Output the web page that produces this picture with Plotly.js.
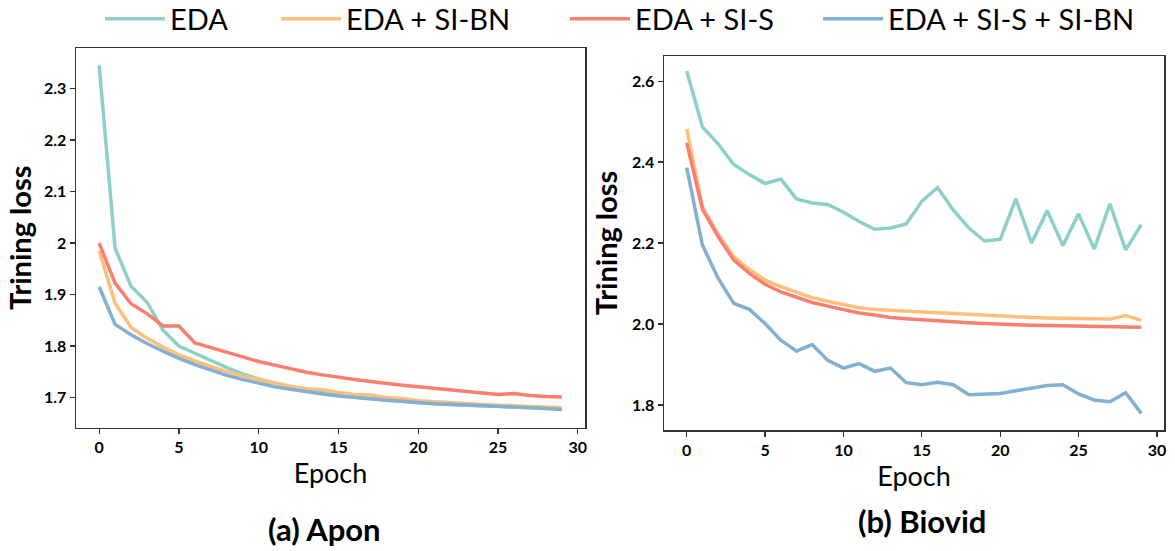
<!DOCTYPE html>
<html>
<head>
<meta charset="utf-8">
<script src="https://cdn.plot.ly/plotly-3.0.1.min.js"></script>
<style>html,body{margin:0;padding:0;background:#fff;}#chart{width:1175px;height:551px;}</style>
</head>
<body>
<div id="chart"></div>
<script>
const epochs = Array.from({length: 30}, (_, i) => i);
const seriesNames = ["EDA", "EDA + SI-BN", "EDA + SI-S", "EDA + SI-S + SI-BN"];
const seriesColors = ["#8ECFC9", "#FFBE7A", "#FA7F6F", "#82B0D2"];

// (a) Apon
const apon_EDA   = [2.345, 1.990, 1.916, 1.885, 1.831, 1.800, 1.786, 1.772, 1.758, 1.746, 1.736, 1.728, 1.721, 1.715, 1.710, 1.705, 1.701, 1.698, 1.695, 1.692, 1.690, 1.688, 1.686, 1.685, 1.684, 1.683, 1.682, 1.681, 1.680, 1.679];
const apon_SIBN  = [1.985, 1.883, 1.836, 1.815, 1.798, 1.783, 1.771, 1.760, 1.750, 1.742, 1.735, 1.728, 1.722, 1.717, 1.715, 1.710, 1.706, 1.705, 1.700, 1.698, 1.694, 1.692, 1.690, 1.688, 1.687, 1.685, 1.684, 1.683, 1.682, 1.680];
const apon_SIS   = [2.000, 1.922, 1.882, 1.863, 1.839, 1.839, 1.806, 1.797, 1.788, 1.779, 1.770, 1.763, 1.756, 1.749, 1.744, 1.739, 1.735, 1.731, 1.727, 1.724, 1.721, 1.718, 1.715, 1.713, 1.709, 1.706, 1.708, 1.704, 1.702, 1.701];
const apon_SISBN = [1.915, 1.842, 1.822, 1.805, 1.790, 1.776, 1.764, 1.753, 1.743, 1.735, 1.728, 1.721, 1.716, 1.711, 1.707, 1.703, 1.700, 1.697, 1.695, 1.693, 1.690, 1.688, 1.687, 1.685, 1.684, 1.683, 1.681, 1.680, 1.679, 1.677];

// (b) Biovid
const biovid_EDA   = [2.625, 2.487, 2.445, 2.394, 2.369, 2.347, 2.358, 2.309, 2.299, 2.295, 2.276, 2.253, 2.234, 2.237, 2.247, 2.303, 2.337, 2.282, 2.237, 2.205, 2.209, 2.309, 2.200, 2.280, 2.194, 2.272, 2.185, 2.297, 2.183, 2.245];
const biovid_SIBN  = [2.482, 2.290, 2.222, 2.166, 2.135, 2.108, 2.092, 2.078, 2.065, 2.056, 2.049, 2.040, 2.036, 2.034, 2.031, 2.028, 2.026, 2.024, 2.022, 2.020, 2.020, 2.018, 2.016, 2.015, 2.014, 2.013, 2.013, 2.012, 2.021, 2.009];
const biovid_SIS   = [2.448, 2.284, 2.216, 2.158, 2.125, 2.098, 2.079, 2.065, 2.053, 2.044, 2.036, 2.027, 2.022, 2.016, 2.013, 2.010, 2.007, 2.005, 2.003, 2.001, 1.999, 1.998, 1.997, 1.996, 1.995, 1.994, 1.994, 1.993, 1.993, 1.992];
const biovid_SISBN = [2.386, 2.195, 2.113, 2.051, 2.036, 2.001, 1.960, 1.933, 1.949, 1.910, 1.891, 1.902, 1.883, 1.891, 1.855, 1.850, 1.856, 1.850, 1.825, 1.827, 1.828, 1.835, 1.842, 1.848, 1.850, 1.827, 1.812, 1.808, 1.830, 1.779];

const xTicks = [0, 5, 10, 15, 20, 25, 30];
const aponYTicks = [1.7, 1.8, 1.9, 2, 2.1, 2.2, 2.3];
const aponYTickText = ["1.7", "1.8", "1.9", "2", "2.1", "2.2", "2.3"];
const biovidYTicks = [1.8, 2.0, 2.2, 2.4, 2.6];
const biovidYTickText = ["1.8", "2.0", "2.2", "2.4", "2.6"];
const yTitle = "Trining loss";
const xTitle = "Epoch";
const panelTitles = ["(a) Apon", "(b) Biovid"];

const aponData = [apon_EDA, apon_SIBN, apon_SIS, apon_SISBN];
const biovidData = [biovid_EDA, biovid_SIBN, biovid_SIS, biovid_SISBN];

const FONT = "Lato, 'Open Sans', sans-serif";
const legendIds = ["legend", "legend2", "legend3", "legend4"];
const legendX = [100, 276, 565, 818];

const traces = [];
aponData.forEach((ys, i) => traces.push({
  x: epochs, y: ys, type: "scatter", mode: "lines", name: seriesNames[i],
  line: {color: seriesColors[i], width: 3.5}, xaxis: "x", yaxis: "y",
  legend: legendIds[i], showlegend: true
}));
biovidData.forEach((ys, i) => traces.push({
  x: epochs, y: ys, type: "scatter", mode: "lines", name: seriesNames[i],
  line: {color: seriesColors[i], width: 3.5}, xaxis: "x2", yaxis: "y2", showlegend: false
}));

const axisCommon = {
  showline: true, mirror: true, linecolor: "#333", linewidth: 1.5,
  ticks: "outside", ticklen: 5, tickcolor: "#333", tickwidth: 1.2,
  showgrid: false, zeroline: false,
  tickfont: {family: FONT, size: 16, color: "#000", weight: "bold"}
};

const layout = {
  width: 1175, height: 551,
  margin: {l: 0, r: 0, t: 0, b: 0, autoexpand: false},
  paper_bgcolor: "#fff", plot_bgcolor: "#fff",
  showlegend: true,
  xaxis: Object.assign({}, axisCommon, {
    domain: [76/1175, 585/1175], anchor: "y", range: [-1.45, 30.45],
    tickvals: xTicks,
    title: {text: xTitle, font: {family: FONT, size: 27, color: "#000"}, standoff: 5}
  }),
  yaxis: Object.assign({}, axisCommon, {
    domain: [1 - 427.7/551, 1 - 48/551], anchor: "x", range: [1.6415, 2.3785],
    tickvals: aponYTicks, ticktext: aponYTickText,
    title: {text: yTitle, font: {family: FONT, size: 29, color: "#000", weight: "bold"}, standoff: 4}
  }),
  xaxis2: Object.assign({}, axisCommon, {
    domain: [664/1175, 1164/1175], anchor: "y2", range: [-1.45, 30.45],
    tickvals: xTicks,
    title: {text: xTitle, font: {family: FONT, size: 27, color: "#000"}, standoff: 1}
  }),
  yaxis2: Object.assign({}, axisCommon, {
    domain: [1 - 430/551, 1 - 56/551], anchor: "x2", range: [1.738, 2.662],
    tickvals: biovidYTicks, ticktext: biovidYTickText,
    title: {text: yTitle, font: {family: FONT, size: 29, color: "#000", weight: "bold"}, standoff: 6}
  }),
  annotations: [
    {text: panelTitles[0], xref: "paper", yref: "paper", x: 324/1175, y: 1 - 529/551, xanchor: "center", yanchor: "middle",
     showarrow: false, font: {family: FONT, size: 31, color: "#000", weight: "bold"}},
    {text: panelTitles[1], xref: "paper", yref: "paper", x: 922/1175, y: 1 - 521/551, xanchor: "center", yanchor: "middle",
     showarrow: false, font: {family: FONT, size: 31, color: "#000", weight: "bold"}}
  ]
};
legendIds.forEach((id, i) => {
  layout[id] = {
    orientation: "h", x: legendX[i] / 1175, xanchor: "left", y: 1.012, yanchor: "top",
    font: {family: FONT, size: 29, color: "#000"},
    itemwidth: 60, bgcolor: "rgba(0,0,0,0)"
  };
});

Plotly.newPlot("chart", traces, layout, {displayModeBar: false, staticPlot: true});
</script>
</body>
</html>
